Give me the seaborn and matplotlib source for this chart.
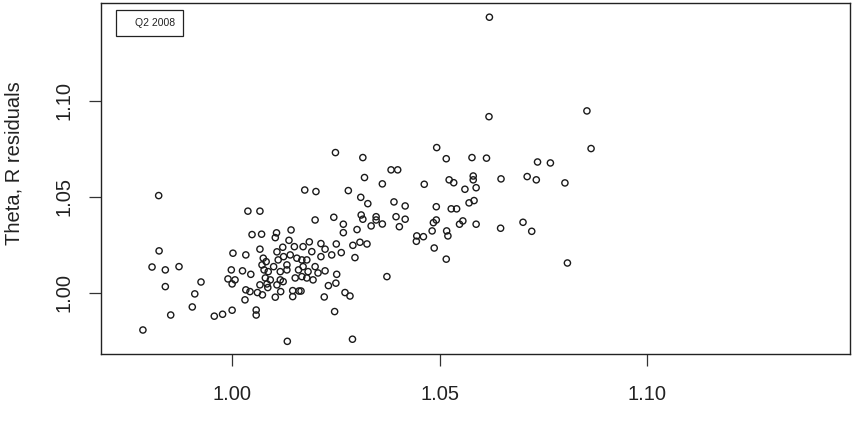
import matplotlib
matplotlib.use("Agg")
import matplotlib.pyplot as plt
import seaborn as sns
import pandas as pd
from matplotlib.patches import Rectangle

# values (Q2 2008)
theta = [0.9823, 0.9824, 0.9807, 0.9839, 0.9872, 0.9839, 0.9925, 0.9910, 0.9904, 0.9852,
         0.9785, 0.9957, 0.9977, 1.0000, 1.0002, 0.9998, 0.9990, 1.0000, 1.0007, 1.0038,
         1.0067, 1.0048, 1.0071, 1.0107, 1.0104, 1.0142, 1.0137, 1.0033, 1.0067, 1.0108,
         1.0122, 1.0150, 1.0171, 1.0075, 1.0082, 1.0072, 1.0111, 1.0124, 1.0140, 1.0156,
         1.0168, 1.0100, 1.0132, 1.0025, 1.0045, 1.0033, 1.0043, 1.0061, 1.0073, 1.0086,
         1.0104, 1.0117, 1.0146, 1.0161, 1.0146, 1.0031, 1.0058, 1.0058, 1.0133, 1.0077,
         1.0087, 1.0116, 1.0132, 1.0080, 1.0092, 1.0116, 1.0067, 1.0084, 1.0108, 1.0123,
         1.0152, 1.0168, 1.0160, 1.0202, 1.0280, 1.0310, 1.0327, 1.0200, 1.0245, 1.0268,
         1.0268, 1.0311, 1.0315, 1.0301, 1.0335, 1.0186, 1.0214, 1.0251, 1.0291, 1.0308,
         1.0325, 1.0296, 1.0224, 1.0263, 1.0240, 1.0214, 1.0192, 1.0180, 1.0200, 1.0171,
         1.0183, 1.0207, 1.0195, 1.0180, 1.0224, 1.0252, 1.0232, 1.0250, 1.0272, 1.0284,
         1.0222, 1.0247, 1.0290, 1.0166, 1.0249, 1.0315, 1.0319, 1.0175, 1.0493, 1.0516,
         1.0578, 1.0383, 1.0399, 1.0362, 1.0463, 1.0523, 1.0534, 1.0581, 1.0581, 1.0561,
         1.0588, 1.0390, 1.0417, 1.0492, 1.0528, 1.0541, 1.0571, 1.0583, 1.0347, 1.0347,
         1.0362, 1.0395, 1.0417, 1.0403, 1.0492, 1.0485, 1.0482, 1.0517, 1.0520, 1.0548,
         1.0556, 1.0588, 1.0445, 1.0461, 1.0444, 1.0487, 1.0516, 1.0373, 1.0619, 1.0855,
         1.0865, 1.0613, 1.0736, 1.0767, 1.0648, 1.0711, 1.0733, 1.0802, 1.0647, 1.0701,
         1.0722, 1.0808, 1.0620]
r_resid = [1.0507, 1.0219, 1.0135, 1.0120, 1.0137, 1.0033, 1.0057, 0.9995, 0.9927, 0.9885,
           0.9807, 0.9879, 0.9889, 0.9910, 1.0207, 1.0120, 1.0073, 1.0047, 1.0068, 1.0426,
           1.0426, 1.0304, 1.0306, 1.0313, 1.0288, 1.0328, 1.0274, 1.0198, 1.0228, 1.0214,
           1.0238, 1.0241, 1.0241, 1.0181, 1.0163, 1.0146, 1.0172, 1.0189, 1.0198, 1.0181,
           1.0172, 1.0137, 1.0146, 1.0115, 1.0097, 1.0016, 1.0007, 1.0002, 0.9990, 1.0028,
           0.9978, 1.0007, 1.0012, 1.0010, 0.9981, 0.9964, 0.9911, 0.9885, 0.9748, 1.0120,
           1.0111, 1.0111, 1.0120, 1.0078, 1.0068, 1.0068, 1.0042, 1.0047, 1.0042, 1.0059,
           1.0078, 1.0085, 1.0120, 1.0528, 1.0533, 1.0498, 1.0465, 1.0380, 1.0394, 1.0358,
           1.0314, 1.0406, 1.0384, 1.0330, 1.0349, 1.0266, 1.0257, 1.0255, 1.0248, 1.0264,
           1.0255, 1.0184, 1.0228, 1.0210, 1.0198, 1.0189, 1.0215, 1.0172, 1.0137, 1.0137,
           1.0111, 1.0104, 1.0068, 1.0078, 1.0115, 1.0097, 1.0038, 1.0051, 1.0002, 0.9984,
           0.9979, 0.9903, 0.9759, 1.0010, 1.0731, 1.0705, 1.0601, 1.0536, 1.0757, 1.0699,
           1.0705, 1.0641, 1.0641, 1.0568, 1.0566, 1.0589, 1.0574, 1.0609, 1.0589, 1.0540,
           1.0548, 1.0474, 1.0453, 1.0449, 1.0438, 1.0438, 1.0469, 1.0481, 1.0397, 1.0380,
           1.0359, 1.0397, 1.0384, 1.0345, 1.0380, 1.0366, 1.0323, 1.0323, 1.0297, 1.0358,
           1.0375, 1.0358, 1.0297, 1.0293, 1.0269, 1.0234, 1.0176, 1.0085, 1.0918, 1.0948,
           1.0752, 1.0702, 1.0682, 1.0677, 1.0594, 1.0606, 1.0589, 1.0573, 1.0337, 1.0368,
           1.0321, 1.0156, 1.1436]
ticks = [1.00, 1.05, 1.10]
tick_labels = ["1.00", "1.05", "1.10"]
legend_label = "Q2 2008"
y_label = "Theta, R residuals"

df = pd.DataFrame({"theta": theta, "resid": r_resid})

sns.set_style("white")
plt.rcParams["font.family"] = ["Liberation Sans", "DejaVu Sans"]

fig = plt.figure(figsize=(8.52, 4.30), dpi=100)
ax = fig.add_axes([101 / 852, 1 - 354 / 430, 749 / 852, 351 / 430])

sns.scatterplot(data=df, x="theta", y="resid", ax=ax, marker="o", s=20,
                facecolors="none", edgecolor="#1a1a1a", linewidth=1.0, legend=False)

ax.set_xlim(0.9684, 1.1489)
ax.set_ylim(0.9682, 1.1510)
ax.set_xticks(ticks)
ax.set_xticklabels(tick_labels)
ax.set_yticks(ticks)
ax.set_yticklabels(tick_labels, rotation=90, va="center")
ax.tick_params(axis="both", direction="out", length=8.5, width=0.9, color="#333333",
               labelsize=14.5, labelcolor="#222222", bottom=True, left=True)
ax.tick_params(axis="x", pad=14)
ax.tick_params(axis="y", pad=11)
for s in ax.spines.values():
    s.set_visible(True)
    s.set_color("#222222")
    s.set_linewidth(1.0)

ax.set_xlabel("")
ax.set_ylabel(y_label, fontsize=14.5, color="#222222")
ax.yaxis.set_label_coords(-0.103, 0.545)

# legend box (text only), top-left
ax.add_patch(Rectangle((0.020, 0.906), 0.0895, 0.074, transform=ax.transAxes,
                       fill=False, edgecolor="#222222", linewidth=0.9))
ax.text(0.072, 0.943, legend_label, transform=ax.transAxes, fontsize=7.5,
        ha="center", va="center", color="#222222")

fig.savefig("out.png", dpi=100)
